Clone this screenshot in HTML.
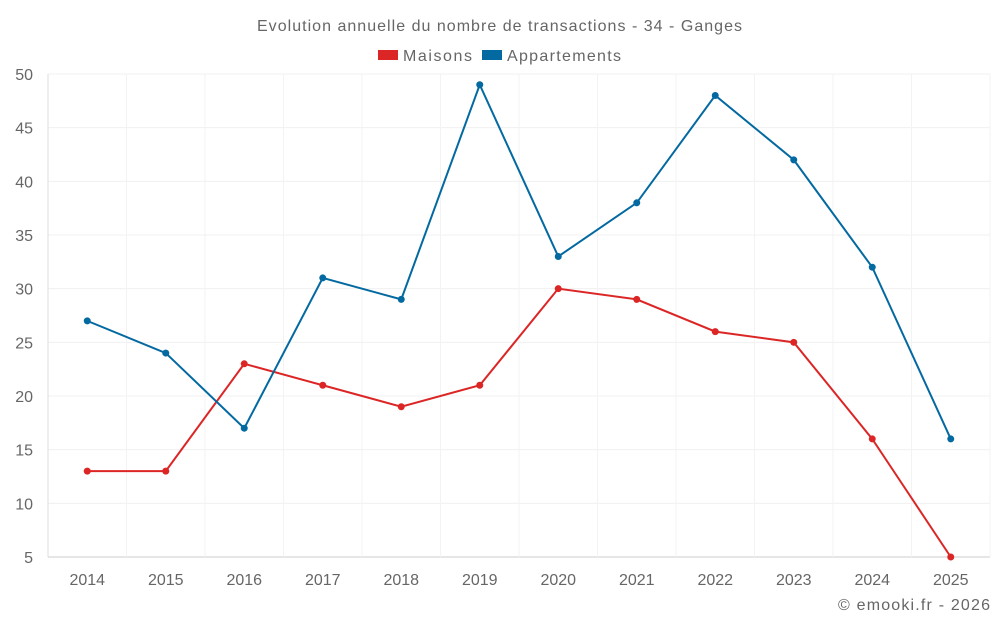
<!DOCTYPE html>
<html><head><meta charset="utf-8"><style>
body{margin:0;background:#fff;font-family:"Liberation Sans",sans-serif;}
svg text{font-family:"Liberation Sans",sans-serif;fill:#666;}
</style></head><body>
<svg id="chart" width="1000" height="625" viewBox="0 0 1000 625">
<text x="257" y="31" font-size="16" textLength="485" lengthAdjust="spacing">Evolution annuelle du nombre de transactions - 34 - Ganges</text>
<g>
<g><rect x="378" y="50" width="20" height="10" fill="#dc2626"/><text x="403" y="61" font-size="16" textLength="69" lengthAdjust="spacing">Maisons</text></g>
<g><rect x="482" y="50" width="20" height="10" fill="#0369a1"/><text x="507" y="61" font-size="16" textLength="114" lengthAdjust="spacing">Appartements</text></g>
</g>
<g id="grid"></g>
<g id="axes"></g>
<g id="series"></g>
<text x="990" y="610" text-anchor="end" font-size="16" textLength="152" lengthAdjust="spacing">© emooki.fr - 2026</text>
</svg>
<script>
const categories=["2014","2015","2016","2017","2018","2019","2020","2021","2022","2023","2024","2025"];
const maisons=[13,13,23,21,19,21,30,29,26,25,16,5];
const appartements=[27,24,17,31,29,49,33,38,48,42,32,16];
const yTicks=[5,10,15,20,25,30,35,40,45,50];
const L=48,R=990,T=74,B=557,yMin=5,yMax=50;
const band=(R-L)/categories.length;
const xs=i=>L+band*(i+0.5);
const ys=v=>B-(v-yMin)/(yMax-yMin)*(B-T);
const NS="http://www.w3.org/2000/svg";
function mk(tag,attrs,parent){const e=document.createElementNS(NS,tag);for(const k in attrs)e.setAttribute(k,attrs[k]);parent.appendChild(e);return e;}
const grid=document.getElementById('grid'),axes=document.getElementById('axes'),series=document.getElementById('series');
yTicks.forEach(t=>{
 const l=mk('line',{x1:L,x2:R,y1:ys(t),y2:ys(t),stroke:t===yMin?'#ccc':'#f0f0f0','stroke-width':1},grid);
 
 
 const tx=mk('text',{x:L-15,y:ys(t)+6,'text-anchor':'end','font-size':16},axes);tx.textContent=t;
 
 
});
for(let i=0;i<=categories.length;i++){
 const x=L+band*i;
 const l=mk('line',{x1:x,x2:x,y1:T,y2:B,stroke:i===0?'#ddd':'#f3f3f3','stroke-width':1},grid);
 
 
}
categories.forEach((c,i)=>{
 const tx=mk('text',{x:xs(i),y:585,'text-anchor':'middle','font-size':16},axes);tx.textContent=c;
 
 
});
function draw(data,color,name){
 const p=mk('polyline',{points:data.map((v,i)=>xs(i)+','+ys(v)).join(' '),fill:'none',stroke:color,'stroke-width':2},series);
 
 
 data.forEach((v,i)=>{
  const c=mk('circle',{cx:xs(i),cy:ys(v),r:3.5,fill:color},series);
  
  
 });
}
draw(maisons,'#dc2626','maisons');
draw(appartements,'#0369a1','appartements');
</script>
</body></html>
